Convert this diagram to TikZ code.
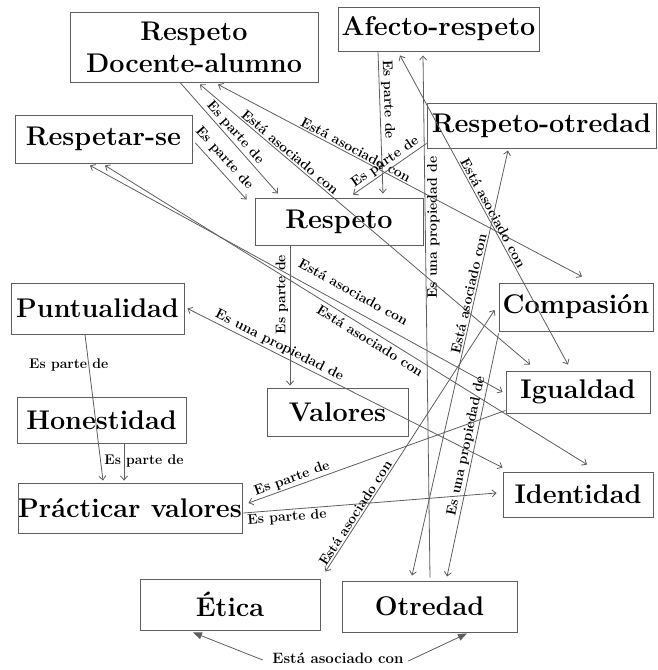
\documentclass[tikz,border=0pt]{standalone}
\usetikzlibrary{arrows.meta}
\definecolor{linegray}{HTML}{5E5E5E}
\tikzset{
    concept/.style={draw=linegray, line width=0.9pt, inner sep=0pt, align=center,
        font=\fontsize{27}{32}\selectfont\bfseries},
    lbl/.style={font=\fontsize{14}{16}\selectfont\bfseries, inner sep=1.5pt},
    link/.style={draw=linegray, line width=0.8pt,
        >={Straight Barb[length=4pt,width=7pt]}},
    biglink/.style={draw=linegray, line width=0.8pt,
        -{Triangle[length=9pt,width=7pt]}}
}
\begin{document}
\begin{tikzpicture}[x=1pt,y=-1pt]
                \useasboundingbox (0,0) rectangle (658,670);

                \node[concept, minimum width=248pt, minimum height=70pt]
                    (docente) at (194,47) {Respeto\\Docente-alumno};
                \node[concept, minimum width=201pt, minimum height=44pt]
                    (afecto) at (438.5,29) {Afecto-respeto};
                \node[concept, minimum width=177pt, minimum height=48pt]
                    (respetarse) at (103.5,139) {Respetar-se};
                \node[concept, minimum width=229pt, minimum height=45pt]
                    (rotredad) at (541.5,125.5) {Respeto-otredad};
                \node[concept, minimum width=168pt, minimum height=47pt]
                    (respeto) at (339,221.5) {Respeto};
                \node[concept, minimum width=154pt, minimum height=48pt]
                    (compasion) at (576,307) {Compasión};
                \node[concept, minimum width=144pt, minimum height=42pt]
                    (igualdad) at (578,392) {Igualdad};
                \node[concept, minimum width=173pt, minimum height=51pt]
                    (puntualidad) at (97.5,308.5) {Puntualidad};
                \node[concept, minimum width=169pt, minimum height=46pt]
                    (honestidad) at (101.5,420) {Honestidad};
                \node[concept, minimum width=141pt, minimum height=48pt]
                    (valores) at (337.5,412) {Valores};
                \node[concept, minimum width=150pt, minimum height=45pt]
                    (identidad) at (578,494.5) {Identidad};
                \node[concept, minimum width=224pt, minimum height=50pt]
                    (practicar) at (130,508) {Prácticar valores};
                \node[concept, minimum width=180pt, minimum height=51pt]
                    (etica) at (230,604.5) {Ética};
                \node[concept, minimum width=175pt, minimum height=51pt]
                    (otredad) at (429.5,606.5) {Otredad};
                \node[lbl, font=\fontsize{15}{17}\selectfont\bfseries]
                    (asoc) at (338,658) {Está asociado con};

                \draw[link,->] ([xshift=-14pt]docente.south)
                    -- node[lbl,sloped,above,pos=.5] {Es parte de}
                    ([xshift=-61pt,yshift=4pt]respeto.north);
                \draw[link,->] ([xshift=3pt,yshift=-4pt]respetarse.east)
                    -- node[lbl,sloped,above=3pt,pos=.4] {Es parte de}
                    ([xshift=-8pt,yshift=-2pt]respeto.north west);
                \draw[link,<->] ([xshift=6pt,yshift=-2pt]docente.south)
                    -- node[lbl,sloped,above,pos=.26] {Está asociado con}
                    ([xshift=-48pt,yshift=6pt]igualdad.north);
                \draw[link,<->] ([xshift=24pt,yshift=-2pt]docente.south)
                    -- node[lbl,sloped,above,pos=.37] {Está asociado con}
                    ([xshift=6pt,yshift=6pt]compasion.north);
                \draw[link,->] ([xshift=-60.5pt]afecto.south)
                    -- node[lbl,sloped,above,pos=.34] {Es parte de}
                    ([xshift=44pt,yshift=4pt]respeto.north);
                \draw[link,<-] ([xshift=14pt,yshift=3pt]respeto.north)
                    -- node[lbl,sloped,above,pos=.5] {Es parte de}
                    ([yshift=5pt]rotredad.south west);
                \draw[link,<->] ([xshift=-38.5pt,yshift=-4pt]afecto.south)
                    -- node[lbl,sloped,above,pos=.52] {Está asociado con}
                    ([xshift=-10pt,yshift=6pt]igualdad.north);
                \draw[link,<->] ([xshift=-13.5pt,yshift=-2pt]respetarse.south)
                    -- node[lbl,sloped,above=9pt,pos=.62] {Está asociado con}
                    ([xshift=-3pt]igualdad.west);
                \draw[link,<->] ([xshift=1.5pt,yshift=-2pt]respetarse.south)
                    -- node[lbl,sloped,below=2pt,pos=.56] {Está asociado con}
                    ([xshift=9pt,yshift=7pt]identidad.north);
                \draw[link,->] ([xshift=-49pt]respeto.south)
                    -- node[lbl,rotate=90,anchor=south,pos=.35] {Es parte de}
                    ([xshift=-47.5pt,yshift=2pt]valores.north);
                \draw[link,->] ([xshift=0.5pt,yshift=3pt]otredad.north)
                    -- node[lbl,rotate=90,anchor=north,pos=.67] {Es una propiedad de}
                    ([xshift=-15.5pt,yshift=-4pt]afecto.south);
                \draw[link,<->] ([xshift=-17.5pt,yshift=5pt]otredad.north)
                    -- node[lbl,sloped,above,pos=.66] {Está asociado con}
                    ([xshift=-33.5pt,yshift=-2pt]rotredad.south);
                \draw[link,<-] ([xshift=17.5pt,yshift=4pt]otredad.north)
                    -- node[lbl,sloped,above,pos=.53] {Es una propiedad de}
                    ([yshift=-2pt]compasion.south west);
                \draw[link,<->] ([xshift=5pt,yshift=7pt]etica.north east)
                    -- node[lbl,sloped,above,pos=.21] {Está asociado con}
                    ([xshift=-4pt,yshift=-3pt]compasion.west);
                \draw[link,<-] ([xshift=6pt,yshift=5pt]practicar.east)
                    -- node[lbl,sloped,above,pos=.18] {Es parte de}
                    ([yshift=3pt]igualdad.south west);
                \draw[link,->] ([xshift=1pt,yshift=-5pt]practicar.east)
                    -- node[lbl,sloped,below,pos=.17] {Es parte de}
                    ([xshift=-6pt,yshift=1.5pt]identidad.west);
                \draw[link,<->] ([xshift=3pt]puntualidad.east)
                    -- node[lbl,sloped,above,pos=.28] {Es una propiedad de}
                    ([yshift=4pt]identidad.north west);
                \draw[link,->] ([xshift=-12.5pt]puntualidad.south)
                    -- node[lbl,pos=.21,xshift=-20pt] {Es parte de}
                    ([xshift=-27pt,yshift=2pt]practicar.north);
                \draw[link,->] ([xshift=22.5pt]honestidad.south)
                    -- node[lbl,pos=.47,xshift=20pt] {Es parte de}
                    ([xshift=-6pt,yshift=2pt]practicar.north);

                \draw[biglink] ([xshift=-8pt,yshift=-2pt]asoc.west)
                    -- ([xshift=-37pt,yshift=-2pt]etica.south);
                \draw[biglink] ([xshift=3pt,yshift=-3pt]asoc.east)
                    -- ([xshift=37.5pt,yshift=-1pt]otredad.south);
\end{tikzpicture}
\end{document}
